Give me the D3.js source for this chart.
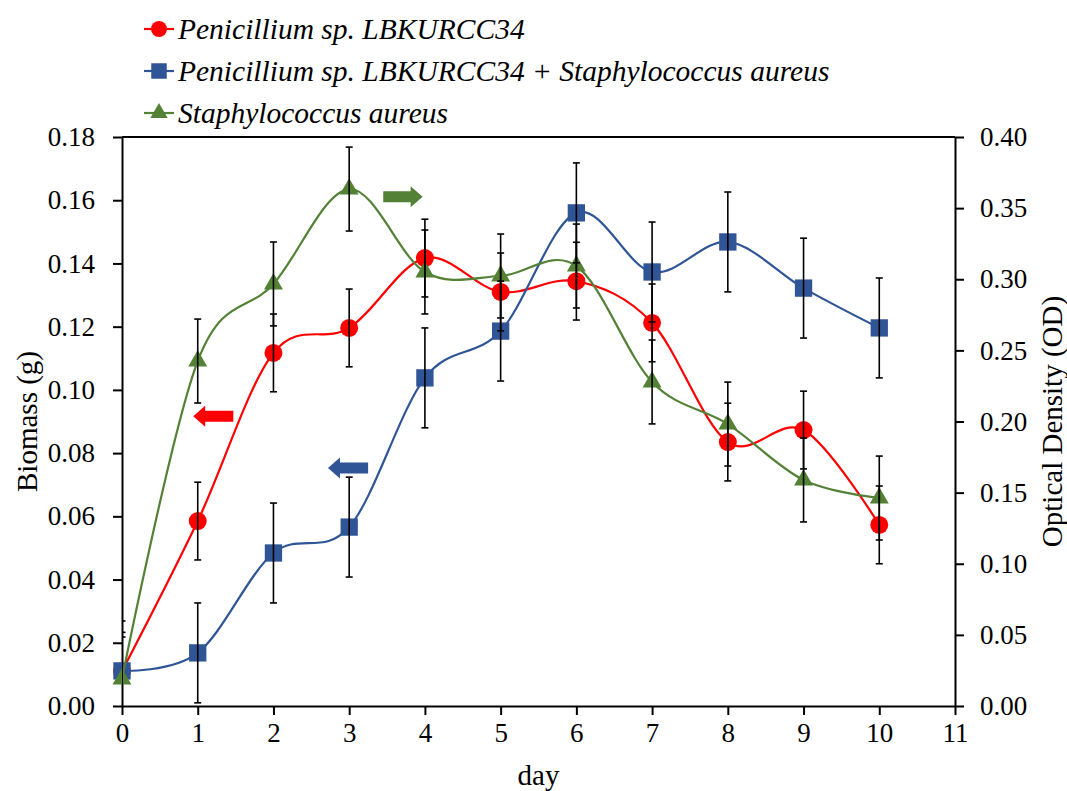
<!DOCTYPE html>
<html>
<head>
<meta charset="utf-8">
<script src="https://cdn.jsdelivr.net/npm/d3@7"></script>
<style>
  html, body { margin: 0; padding: 0; background: #fff; }
  svg { display: block; }
  svg text { font-family: "Liberation Serif", "Times New Roman", Tinos, "DejaVu Serif", serif !important; fill: #000; }
</style>
</head>
<body>
<svg id="chart" width="1067" height="791"></svg>
<script>
// ---------- data ----------
const days = [0, 1, 2, 3, 4, 5, 6, 7, 8, 9, 10];
const penicillium    = [0.011, 0.0585, 0.1117, 0.1196, 0.1417, 0.1310, 0.1344, 0.1212, 0.0835, 0.0873, 0.0573];
const penicilliumErr = [0.0123, 0.0123, 0.0123, 0.0123, 0.0123, 0.0123, 0.0123, 0.0123, 0.0123, 0.0123, 0.0123];
const mixed          = [0.0111, 0.0168, 0.0484, 0.0566, 0.1038, 0.1186, 0.1560, 0.1373, 0.1468, 0.1322, 0.1196];
const mixedErr       = [0.0158, 0.0158, 0.0158, 0.0158, 0.0158, 0.0158, 0.0158, 0.0158, 0.0158, 0.0158, 0.0158];
const staph          = [0.019, 0.2425, 0.2967, 0.3634, 0.3051, 0.3023, 0.3093, 0.2278, 0.1982, 0.1589, 0.1462];
const staphErr       = [0.0295, 0.0295, 0.0295, 0.0295, 0.0295, 0.0295, 0.0295, 0.0295, 0.0295, 0.0295, 0.0295];

const xTickValues = [0, 1, 2, 3, 4, 5, 6, 7, 8, 9, 10, 11];
const leftTickValues = [0, 0.02, 0.04, 0.06, 0.08, 0.10, 0.12, 0.14, 0.16, 0.18];
const rightTickValues = [0, 0.05, 0.10, 0.15, 0.20, 0.25, 0.30, 0.35, 0.40];

const seriesNames = ["Penicillium sp. LBKURCC34",
                     "Penicillium sp. LBKURCC34 + Staphylococcus aureus",
                     "Staphylococcus aureus"];
const xTitle = "day";
const leftTitle = "Biomass (g)";
const rightTitle = "Optical Density (OD)";

// arrow annotations (data coordinates: day start, day end, value, axis, direction)
const arrowRed   = { x0: 0.94, x1: 1.47, v: 0.0917, axis: "left",  dir: "left" };
const arrowBlue  = { x0: 2.72, x1: 3.25, v: 0.0753, axis: "left",  dir: "left" };
const arrowGreen = { x0: 3.45, x1: 3.97, v: 0.358,  axis: "right", dir: "right" };

// ---------- layout ----------
const svg = d3.select("#chart");
const plot = { left: 122, right: 955, top: 137, bottom: 706 };

const x = d3.scaleLinear().domain([0, 11]).range([plot.left, plot.right]);
const yL = d3.scaleLinear().domain([0, 0.18]).range([plot.bottom, plot.top]);
const yR = d3.scaleLinear().domain([0, 0.40]).range([plot.bottom, plot.top]);

const RED = "#FF0000", BLUE = "#2F5597", GREEN = "#538135";
const SERIF = '"Liberation Serif", "Times New Roman", Tinos, "DejaVu Serif", serif';

svg.append("defs").append("clipPath").attr("id", "plotclip")
  .append("rect").attr("x", plot.left).attr("y", plot.top)
  .attr("width", plot.right - plot.left).attr("height", plot.bottom - plot.top);

// ---------- axes ----------
const fmt2 = d3.format(".2f");
const tickFont = "27px";

const gx = svg.append("g").attr("transform", `translate(0,${plot.bottom})`)
  .call(d3.axisBottom(x).tickValues(xTickValues).tickFormat(d3.format("d")).tickSize(9).tickSizeOuter(0).tickPadding(8));
const gl = svg.append("g").attr("transform", `translate(${plot.left},0)`)
  .call(d3.axisLeft(yL).tickValues(leftTickValues).tickFormat(fmt2).tickSize(9).tickSizeOuter(0).tickPadding(18));
const gr = svg.append("g").attr("transform", `translate(${plot.right},0)`)
  .call(d3.axisRight(yR).tickValues(rightTickValues).tickFormat(fmt2).tickSize(9).tickSizeOuter(0).tickPadding(16));

[gx, gl, gr].forEach(g => {
  g.attr("font-family", SERIF).attr("font-size", 27);
  g.selectAll("path.domain").attr("stroke", "#000").attr("stroke-width", 2);
  g.selectAll(".tick line").attr("stroke", "#000").attr("stroke-width", 2);
  g.selectAll(".tick text").style("font-size", tickFont).attr("fill", "#000");
});

// top border
svg.append("line").attr("x1", plot.left).attr("x2", plot.right)
  .attr("y1", plot.top).attr("y2", plot.top).attr("stroke", "#000").attr("stroke-width", 2);

// axis titles (centred on the plot area)
const cxPlot = (plot.left + plot.right) / 2, cyPlot = (plot.top + plot.bottom) / 2;
svg.append("text").attr("x", cxPlot).attr("y", 785).attr("text-anchor", "middle")
  .style("font-size", "29px").text(xTitle);
svg.append("text").attr("transform", `translate(37,${cyPlot}) rotate(-90)`)
  .attr("text-anchor", "middle").style("font-size", "29px").text(leftTitle);
svg.append("text").attr("transform", `translate(1062,${cyPlot}) rotate(-90)`)
  .attr("text-anchor", "middle").style("font-size", "29px").text(rightTitle);

// ---------- series ----------
const series = [
  { vals: penicillium, err: penicilliumErr, y: yL, color: RED, marker: "circle" },
  { vals: mixed, err: mixedErr, y: yL, color: BLUE, marker: "square" },
  { vals: staph, err: staphErr, y: yR, color: GREEN, marker: "triangle" }
];

const symbolFor = m => m === "circle" ? d3.symbol(d3.symbolCircle, 254)
                   : m === "square" ? d3.symbol(d3.symbolSquare, 300)
                   : d3.symbol(d3.symbolTriangle, 155);

const line = yScale => d3.line().x((d, i) => x(days[i])).y(d => yScale(d)).curve(d3.curveCatmullRom.alpha(0));

const gSeries = svg.append("g");
series.forEach(s => {
  gSeries.append("path").datum(s.vals).attr("d", line(s.y))
    .attr("fill", "none").attr("stroke", s.color).attr("stroke-width", 2.2);
  gSeries.selectAll(null).data(s.vals).enter().append("path")
    .attr("transform", (d, i) => `translate(${x(days[i])},${s.y(d)})`)
    .attr("d", symbolFor(s.marker)()).attr("fill", s.color);
});

// error bars
const gErr = svg.append("g").attr("clip-path", "url(#plotclip)");
const cap = 3.5;
series.forEach(s => {
  s.vals.forEach((v, i) => {
    const cx = x(days[i]);
    const yt = s.y(v + s.err[i]), yb = s.y(v - s.err[i]);
    gErr.append("line").attr("x1", cx).attr("x2", cx).attr("y1", yt).attr("y2", yb)
      .attr("stroke", "#000").attr("stroke-width", 1.6);
    [yt, yb].forEach(yy => gErr.append("line").attr("x1", cx - cap).attr("x2", cx + cap)
      .attr("y1", yy).attr("y2", yy).attr("stroke", "#000").attr("stroke-width", 1.6));
  });
});

// ---------- arrows ----------
function drawArrow(a, color) {
  const ys = a.axis === "left" ? yL : yR;
  const xa = x(a.x0), xb = x(a.x1), yc = ys(a.v);
  const head = 12, bodyH = 5.5, headH = 10.5;
  let pts;
  if (a.dir === "left") {
    pts = [[xa, yc], [xa + head, yc - headH], [xa + head, yc - bodyH], [xb, yc - bodyH],
           [xb, yc + bodyH], [xa + head, yc + bodyH], [xa + head, yc + headH]];
  } else {
    pts = [[xb, yc], [xb - head, yc - headH], [xb - head, yc - bodyH], [xa, yc - bodyH],
           [xa, yc + bodyH], [xb - head, yc + bodyH], [xb - head, yc + headH]];
  }
  svg.append("polygon").attr("points", pts.map(p => p.join(",")).join(" ")).attr("fill", color);
}
drawArrow(arrowRed, RED);
drawArrow(arrowBlue, BLUE);
drawArrow(arrowGreen, GREEN);

// ---------- legend ----------
const legend = svg.append("g");
const legendRows = [29, 71, 113];
series.forEach((s, i) => {
  const yy = legendRows[i];
  legend.append("line").attr("x1", 144).attr("x2", 174).attr("y1", yy).attr("y2", yy)
    .attr("stroke", s.color).attr("stroke-width", 2.2);
  const sym = s.marker === "circle" ? d3.symbol(d3.symbolCircle, 200)
            : s.marker === "square" ? d3.symbol(d3.symbolSquare, 240)
            : d3.symbol(d3.symbolTriangle, 130);
  legend.append("path").attr("transform", `translate(159,${yy})`).attr("d", sym()).attr("fill", s.color);
  legend.append("text").attr("x", 178).attr("y", yy + 10).style("font-size", "29.5px")
    .style("font-style", "italic").text(seriesNames[i]);
});
</script>
</body>
</html>
